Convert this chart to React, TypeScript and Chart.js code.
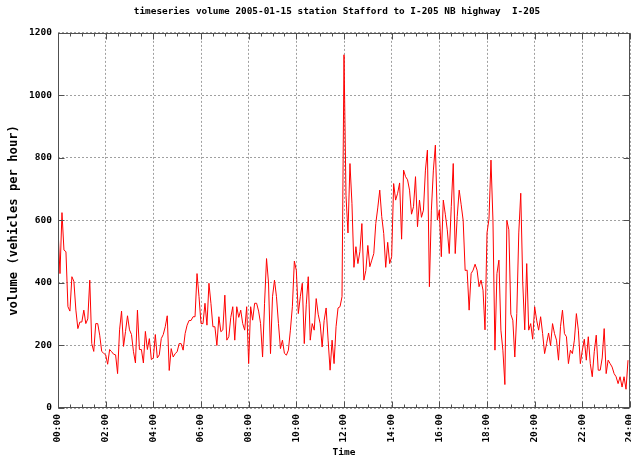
import React, { useEffect, useRef } from "react";
import { Chart, registerables } from "chart.js";

Chart.register(...registerables);

const TITLE = "timeseries volume 2005-01-15 station Stafford to I-205 NB highway  I-205";
const Y_TITLE = "volume (vehicles per hour)";
const X_TITLE = "Time";
const STEP_MINUTES = 5;

// 5-minute volumes, 00:00 .. 23:55
const volume: number[] = [
  575, 430, 625, 505, 500, 324, 310, 420, 405, 313, 254, 275,
  275, 313, 270, 285, 409, 206, 181, 270, 270, 233, 181, 175,
  170, 140, 187, 180, 172, 170, 110, 250, 310, 197, 245, 295,
  250, 235, 180, 144, 313, 187, 187, 144, 245, 187, 222, 155,
  160, 235, 160, 170, 222, 235, 260, 295, 120, 190, 163, 174,
  180, 206, 206, 185, 238, 265, 280, 280, 292, 292, 430, 356,
  270, 270, 335, 265, 399, 335, 260, 260, 200, 292, 244, 250,
  361, 217, 228, 290, 324, 217, 324, 290, 313, 270, 249, 324,
  142, 324, 281, 335, 335, 310, 270, 163, 335, 478, 400, 174,
  356, 409, 356, 270, 190, 217, 175, 169, 185, 249, 324, 470,
  440, 302, 356, 399, 206, 330, 420, 217, 270, 249, 350, 300,
  270, 195, 280, 320, 217, 121, 217, 142, 260, 320, 324, 356,
  1130, 680, 560, 782, 655, 450, 516, 462, 500, 590, 409, 440,
  520, 452, 473, 494, 590, 640, 697, 612, 558, 450, 530, 462,
  484, 718, 665, 687, 720, 540, 761, 740, 730, 697, 620, 644,
  740, 580, 665, 610, 633, 761, 825, 388, 633, 761, 841, 601,
  633, 484, 665, 620, 570, 494, 644, 782, 494, 612, 697, 650,
  600, 440, 441, 313, 430, 441, 460, 441, 388, 409, 377, 250,
  560, 605, 793, 600, 185, 430, 473, 249, 185, 75, 600, 570,
  300, 281, 163, 302, 560, 687, 400, 250, 462, 249, 270, 220,
  324, 281, 249, 292, 238, 174, 206, 240, 200, 270, 238, 217,
  153, 260, 313, 238, 228, 142, 185, 174, 217, 302, 249, 142,
  185, 220, 153, 228, 142, 100, 180, 233, 121, 121, 160, 254,
  110, 153, 142, 131, 110, 100, 78, 100, 67, 100, 60, 153,
];

const yTicks: number[] = [0, 200, 400, 600, 800, 1000, 1200];
const xTickMinutes: number[] = [0, 120, 240, 360, 480, 600, 720, 840, 960, 1080, 1200, 1320, 1440];
const xTickLabels: string[] = [
  "00:00", "02:00", "04:00", "06:00", "08:00", "10:00", "12:00",
  "14:00", "16:00", "18:00", "20:00", "22:00", "24:00",
];
const MINOR_STEP = 30;

const FONT = "'DejaVu Sans Mono', 'Liberation Mono', monospace";

const framePlugin = {
  id: "gnuFrame",
  afterLayout(chart: any) {
    const tb = chart.titleBlock;
    if (tb) {
      tb.left -= 7;
      tb.right -= 7;
    }
  },
  afterDatasetsDraw(chart: any) {
    const { ctx, chartArea: a, scales } = chart;
    const xs = scales.x;
    const ys = scales.y;
    const L = Math.round(a.left) + 0.5;
    const R = Math.round(a.right) - 0.5;
    const T = Math.round(a.top) + 0.5;
    const B = Math.round(a.bottom) - 0.5;
    ctx.save();
    ctx.strokeStyle = "#505050";
    ctx.lineWidth = 1;
    ctx.beginPath();
    const xMax = xTickMinutes[xTickMinutes.length - 1];
    for (let m = 0; m <= xMax; m += MINOR_STEP) {
      const px = Math.round(xs.getPixelForValue(m)) + 0.5;
      const len = xTickMinutes.includes(m) ? 6 : 3;
      ctx.moveTo(px, B);
      ctx.lineTo(px, B - len);
      ctx.moveTo(px, T);
      ctx.lineTo(px, T + len);
    }
    for (const v of yTicks) {
      const py = Math.round(ys.getPixelForValue(v)) + 0.5;
      ctx.moveTo(L, py);
      ctx.lineTo(L + 6, py);
      ctx.moveTo(R, py);
      ctx.lineTo(R - 6, py);
    }
    ctx.stroke();
    ctx.strokeRect(L, T, R - L, B - T);
    ctx.restore();
  },
};

export default function App() {
  const ref = useRef<HTMLCanvasElement | null>(null);

  useEffect(() => {
    if (!ref.current) return;
    const points = volume.map((v, i) => ({ x: i * STEP_MINUTES, y: v }));
    const chart = new Chart(ref.current, {
      type: "line",
      data: {
        datasets: [
          {
            data: points,
            borderColor: "#ff0000",
            borderWidth: 1,
            pointRadius: 0,
            tension: 0,
            fill: false,
          },
        ],
      },
      options: {
        responsive: false,
        animation: false,
        devicePixelRatio: 1,
        layout: { padding: { left: 0, right: 1, top: 0, bottom: 0 } },
        plugins: {
          legend: { display: false },
          tooltip: { enabled: false },
          title: {
            display: true,
            text: TITLE,
            fullSize: false,
            color: "#000",
            font: { family: FONT, size: 9.4, weight: "bold", lineHeight: 1.2 },
            padding: { top: 6, bottom: 15.6 },
          },
        },
        scales: {
          x: {
            type: "linear",
            min: 0,
            max: xTickMinutes[xTickMinutes.length - 1],
            afterBuildTicks: (s: any) => {
              s.ticks = xTickMinutes.map((v) => ({ value: v }));
            },
            afterFit: (s: any) => {
              s.height = 49;
              s.paddingLeft = 0;
              s.paddingRight = 0;
            },
            ticks: {
              autoSkip: false,
              minRotation: 90,
              maxRotation: 90,
              padding: 6,
              color: "#000",
              font: { family: FONT, size: 9.5, weight: "bold" },
              callback: (_v: any, i: number) => xTickLabels[i],
            },
            grid: {
              drawTicks: false,
              color: "#a0a0a0",
              lineWidth: 1,
            },
            border: { display: false, dash: [2, 2] },
            title: {
              display: true,
              text: X_TITLE,
              color: "#000",
              font: { family: FONT, size: 9.5, weight: "bold", lineHeight: 1 },
              padding: { top: 0, bottom: 0 },
            },
          },
          y: {
            min: yTicks[0],
            max: yTicks[yTicks.length - 1],
            afterBuildTicks: (s: any) => {
              s.ticks = yTicks.map((v) => ({ value: v }));
            },
            afterFit: (s: any) => {
              s.width = 58;
            },
            ticks: {
              padding: 6,
              color: "#000",
              font: { family: FONT, size: 9.5, weight: "bold" },
              callback: (v: any) => String(v),
            },
            grid: {
              drawTicks: false,
              color: "#a0a0a0",
              lineWidth: 1,
            },
            border: { display: false, dash: [2, 2] },
            title: {
              display: true,
              text: Y_TITLE,
              color: "#000",
              font: { family: FONT, size: 12.2, weight: "bold", lineHeight: 1.2 },
              padding: { top: 7, bottom: 0 },
            },
          },
        },
      },
      plugins: [framePlugin],
    });
    return () => chart.destroy();
  }, []);

  return (
    <div style={{ position: "absolute", left: 0, top: 0, width: 631, height: 457, background: "#fff" }}>
      <canvas ref={ref} width={631} height={457} />
    </div>
  );
}
